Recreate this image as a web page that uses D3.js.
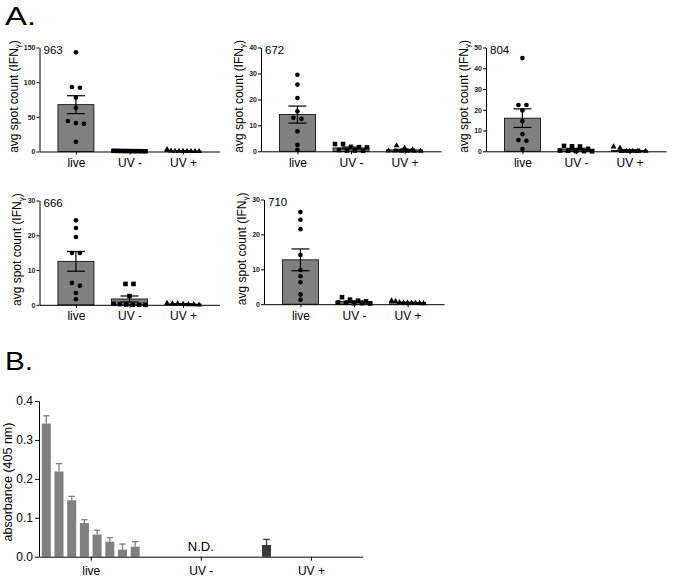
<!DOCTYPE html>
<html><head><meta charset="utf-8">
<script src="https://cdn.jsdelivr.net/npm/d3@7"></script>
<style>body{margin:0;background:#fff} svg{display:block;font-family:"Liberation Sans",Arial,sans-serif}</style>
</head><body><svg id="c" width="673" height="578"></svg>
<script>
// ---------- DATA ----------
const categories = ["live", "UV -", "UV +"];
const panelIds = ["963", "672", "804", "666", "710"];
const yMaxes = [150, 40, 50, 30, 30];
const yTickSteps = [50, 10, 10, 10, 10];

const p963_live = [143, 92, 93, 78, 63, 41, 40, 44, 14];
const p963_uvMinus = [0.5, 0.4, 0.6, 0.3, 0.8, 0.5, 0.7, 0.9, 1.0];
const p963_uvPlus = [3.0, 0.5, 0.3, 0.2, 0.3, 0.5, 0.4, 0.6, 1.0];

const p672_live = [29.5, 25.7, 20.5, 15.4, 12.9, 12.5, 7.7, 2.5, 0.6];
const p672_uvMinus = [0.2, 0.3, 0.3, 1.5, 2.8, 2.8, 0.5, 1.6, 1.7];
const p672_uvPlus = [1.3, 0.1, 0.1, 0.2, 2.2, 0.1, 0.2, 0.1, 0.6];

const p804_live = [44.9, 22.3, 22.3, 19.7, 14.6, 8.3, 5.4, 5.1, 1.1];
const p804_uvMinus = [2.4, 1.2, 0.4, 0.1, 0.0, 0.1, 0.3, 2.3, 2.6];
const p804_uvPlus = [1.6, 0.1, 0.0, 0.1, 0.0, 0.1, 0.0, 0.1, 2.2];

const p666_live = [24.3, 22.1, 19.5, 14.9, 14.9, 6.3, 5.5, 3.4, 1.6];
const p666_uvMinus = [6.0, 6.0, 2.5, 0.0, 0.0, 0.0, 0.1, 0.2, 0.3];
const p666_uvPlus = [0.5, 0.3, 0.2, 0.1, 0.1, 0.3, 0.0];

const p710_live = [26.4, 24.2, 21.5, 14.1, 9.8, 8.0, 6.3, 2.8, 1.3];
const p710_uvMinus = [1.0, 0.5, 0.3, 0.2, 2.0, 0.3, 0.4, 0.8, 1.3];
const p710_uvPlus = [1.0, 0.4, 0.3, 0.3, 0.2, 0.3, 0.4, 0.5, 0.8];

const absGroups = ["live", "UV -", "UV +"];
const absTicks = [0.0, 0.1, 0.2, 0.3, 0.4];
const absLive = [0.342, 0.219, 0.145, 0.0865, 0.057, 0.0385, 0.018, 0.0257];
const absLiveErr = [0.020, 0.020, 0.010, 0.0085, 0.011, 0.0105, 0.0145, 0.0128];
const absUVminus = [null, null, null, null, null, null, null, null];
const absUVplus = [0.030, null, null, null, null, null, null, null];
const absUVplusErr = [0.0145, null, null, null, null, null, null, null];

// ---------- BUILD ----------
const panelData = [
  [p963_live, p963_uvMinus, p963_uvPlus],
  [p672_live, p672_uvMinus, p672_uvPlus],
  [p804_live, p804_uvMinus, p804_uvPlus],
  [p666_live, p666_uvMinus, p666_uvPlus],
  [p710_live, p710_uvMinus, p710_uvPlus]
];
const layout = [
  {x: 39.5, y0: 151.5, yT: 47.5, lab: 22},
  {x: 261, y0: 151.3, yT: 47.5, lab: 18.5},
  {x: 486, y0: 151.3, yT: 47.5, lab: 18.5},
  {x: 39.5, y0: 304.8, yT: 200.5, lab: 18.5},
  {x: 264, y0: 304.2, yT: 199.5, lab: 18.5}
];
const svg = d3.select("#c");
const AXW = 180, BW = 36;

svg.append("text").attr("x", 5).attr("y", 25).attr("font-size", 25)
  .attr("textLength", 31).attr("lengthAdjust", "spacingAndGlyphs").text("A.");
svg.append("text").attr("x", 5).attr("y", 370).attr("font-size", 25)
  .attr("textLength", 28).attr("lengthAdjust", "spacingAndGlyphs").text("B.");

function swarm(vals, y, cx, maxW) {
  const pts = vals.map(v => ({v, py: y(v)})).sort((a, b) => a.py - b.py);
  const rows = []; let cur = null;
  pts.forEach(p => {
    if (!cur || p.py - cur.start > 4.5) { cur = {start: p.py, items: []}; rows.push(cur); }
    cur.items.push(p);
  });
  rows.forEach(r => {
    const n = r.items.length;
    const sp = n > 1 ? Math.min(8, maxW / (n - 1)) : 0;
    r.items.forEach((p, i) => p.px = cx + (i - (n - 1) / 2) * sp);
  });
  return pts;
}
const symbols = [d3.symbolCircle, d3.symbolSquare, d3.symbolTriangle];
const symSizes = [17, 21, 15];

panelData.forEach((groups, pi) => {
  const L = layout[pi];
  const g = svg.append("g");
  const y = d3.scaleLinear().domain([0, yMaxes[pi]]).range([L.y0, L.yT]);
  const x = d3.scalePoint().domain(categories).range([L.x, L.x + AXW]).padding(0.68);

  groups.forEach((vals, gi) => {
    const c = categories[gi];
    const m = d3.mean(vals);
    const sem = d3.deviation(vals) / Math.sqrt(vals.length);
    const cx = x(c);
    g.append("rect").attr("x", cx - BW / 2).attr("y", y(m))
      .attr("width", BW).attr("height", Math.max(0, L.y0 - y(m)))
      .attr("fill", "#808080").attr("stroke", "#000").attr("stroke-width", 0.8);
    const pts = swarm(vals, y, cx, 32);
    g.selectAll(null).data(pts).join("path")
      .attr("d", d3.symbol().type(symbols[gi]).size(symSizes[gi]))
      .attr("transform", d => `translate(${d.px},${d.py})`)
      .attr("fill", "#000");
    const eg = g.append("g").attr("stroke", "#000").attr("stroke-width", 1.2);
    eg.append("line").attr("x1", cx).attr("x2", cx).attr("y1", y(m + sem)).attr("y2", y(Math.max(0, m - sem)));
    eg.append("line").attr("x1", cx - 9).attr("x2", cx + 9).attr("y1", y(m + sem)).attr("y2", y(m + sem));
    eg.append("line").attr("x1", cx - 9).attr("x2", cx + 9).attr("y1", y(Math.max(0, m - sem))).attr("y2", y(Math.max(0, m - sem)));
  });

  const ticks = d3.range(0, yMaxes[pi] + 0.001, yTickSteps[pi]);
  const ya = g.append("g").attr("transform", `translate(${L.x},0)`)
    .call(d3.axisLeft(y).tickValues(ticks).tickSize(3).tickSizeOuter(0).tickPadding(1));
  ya.selectAll("text").attr("font-size", 7).attr("font-weight", "bold").attr("fill", "#222")
    .attr("font-family", "Liberation Sans, Arial, sans-serif");
  ya.select(".domain").attr("stroke-width", 1);

  const xa = g.append("g").attr("transform", `translate(0,${L.y0})`)
    .call(d3.axisBottom(x).tickSize(3).tickSizeOuter(0).tickPadding(4));
  xa.selectAll("text").attr("font-size", 12).attr("fill", "#000")
    .attr("font-family", "Liberation Sans, Arial, sans-serif");
  xa.select(".domain").attr("stroke-width", 1);

  const ly = (L.y0 + L.yT) / 2 - 3, lx = L.x - L.lab;
  const t = g.append("text").attr("transform", `translate(${lx},${ly}) rotate(-90)`)
    .attr("text-anchor", "middle").attr("font-size", 12);
  t.append("tspan").text("avg spot count (IFN");
  t.append("tspan").attr("font-size", 8).attr("dy", 2.5).text("γ");
  t.append("tspan").attr("dy", -2.5).text(")");

  g.append("text").attr("x", L.x + 4).attr("y", L.yT + 6.8).attr("font-size", 11.5).text(panelIds[pi]);
});

// ---------- PANEL B ----------
(function () {
  const X0 = 39, X1 = 362.7, Y0 = 556.7, YT = 401;
  const g = svg.append("g");
  const y = d3.scaleLinear().domain([0, 0.4]).range([Y0, YT]);
  const x = d3.scalePoint().domain(absGroups).range([X0, X1]).padding(0.47);
  const sub = d3.scaleBand().domain(d3.range(8)).range([-50.8, 50.8]).paddingInner(0.29).paddingOuter(0.145);
  const series = [
    {vals: absLive, errs: absLiveErr, grp: "live", color: "#808080"},
    {vals: absUVminus, errs: absUVminus, grp: "UV -", color: "#808080"},
    {vals: absUVplus, errs: absUVplusErr, grp: "UV +", color: "#3a3a3a"}
  ];
  series.forEach(s => {
    s.vals.forEach((v, i) => {
      if (v == null) return;
      const bx = x(s.grp) + sub(i);
      const bw = sub.bandwidth();
      const cx = bx + bw / 2;
      const e = s.errs[i];
      g.append("line").attr("x1", cx).attr("x2", cx).attr("y1", y(v)).attr("y2", y(v + e))
        .attr("stroke", s.color).attr("stroke-width", 1.3);
      g.append("line").attr("x1", cx - 3.2).attr("x2", cx + 3.2).attr("y1", y(v + e)).attr("y2", y(v + e))
        .attr("stroke", s.color).attr("stroke-width", 1.3);
      g.append("rect").attr("x", bx).attr("y", y(v)).attr("width", bw).attr("height", Y0 - y(v))
        .attr("fill", s.color);
    });
  });
  g.append("text").attr("x", x("UV -")).attr("y", 551).attr("text-anchor", "middle")
    .attr("font-size", 13).text("N.D.");

  const ya = g.append("g").attr("transform", `translate(${X0},0)`)
    .call(d3.axisLeft(y).tickValues(absTicks).tickFormat(d3.format(".1f")).tickSize(4).tickSizeOuter(0).tickPadding(2));
  ya.selectAll("text").attr("font-size", 12).attr("fill", "#000")
    .attr("font-family", "Liberation Sans, Arial, sans-serif");
  const xa = g.append("g").attr("transform", `translate(0,${Y0})`)
    .call(d3.axisBottom(x).tickSize(4).tickSizeOuter(0).tickPadding(5.5));
  xa.selectAll("text").attr("font-size", 12).attr("fill", "#000")
    .attr("font-family", "Liberation Sans, Arial, sans-serif");

  g.append("text").attr("transform", `translate(12,482) rotate(-90)`)
    .attr("text-anchor", "middle").attr("font-size", 12.5).text("absorbance (405 nm)");
})();
</script>
</body></html>
